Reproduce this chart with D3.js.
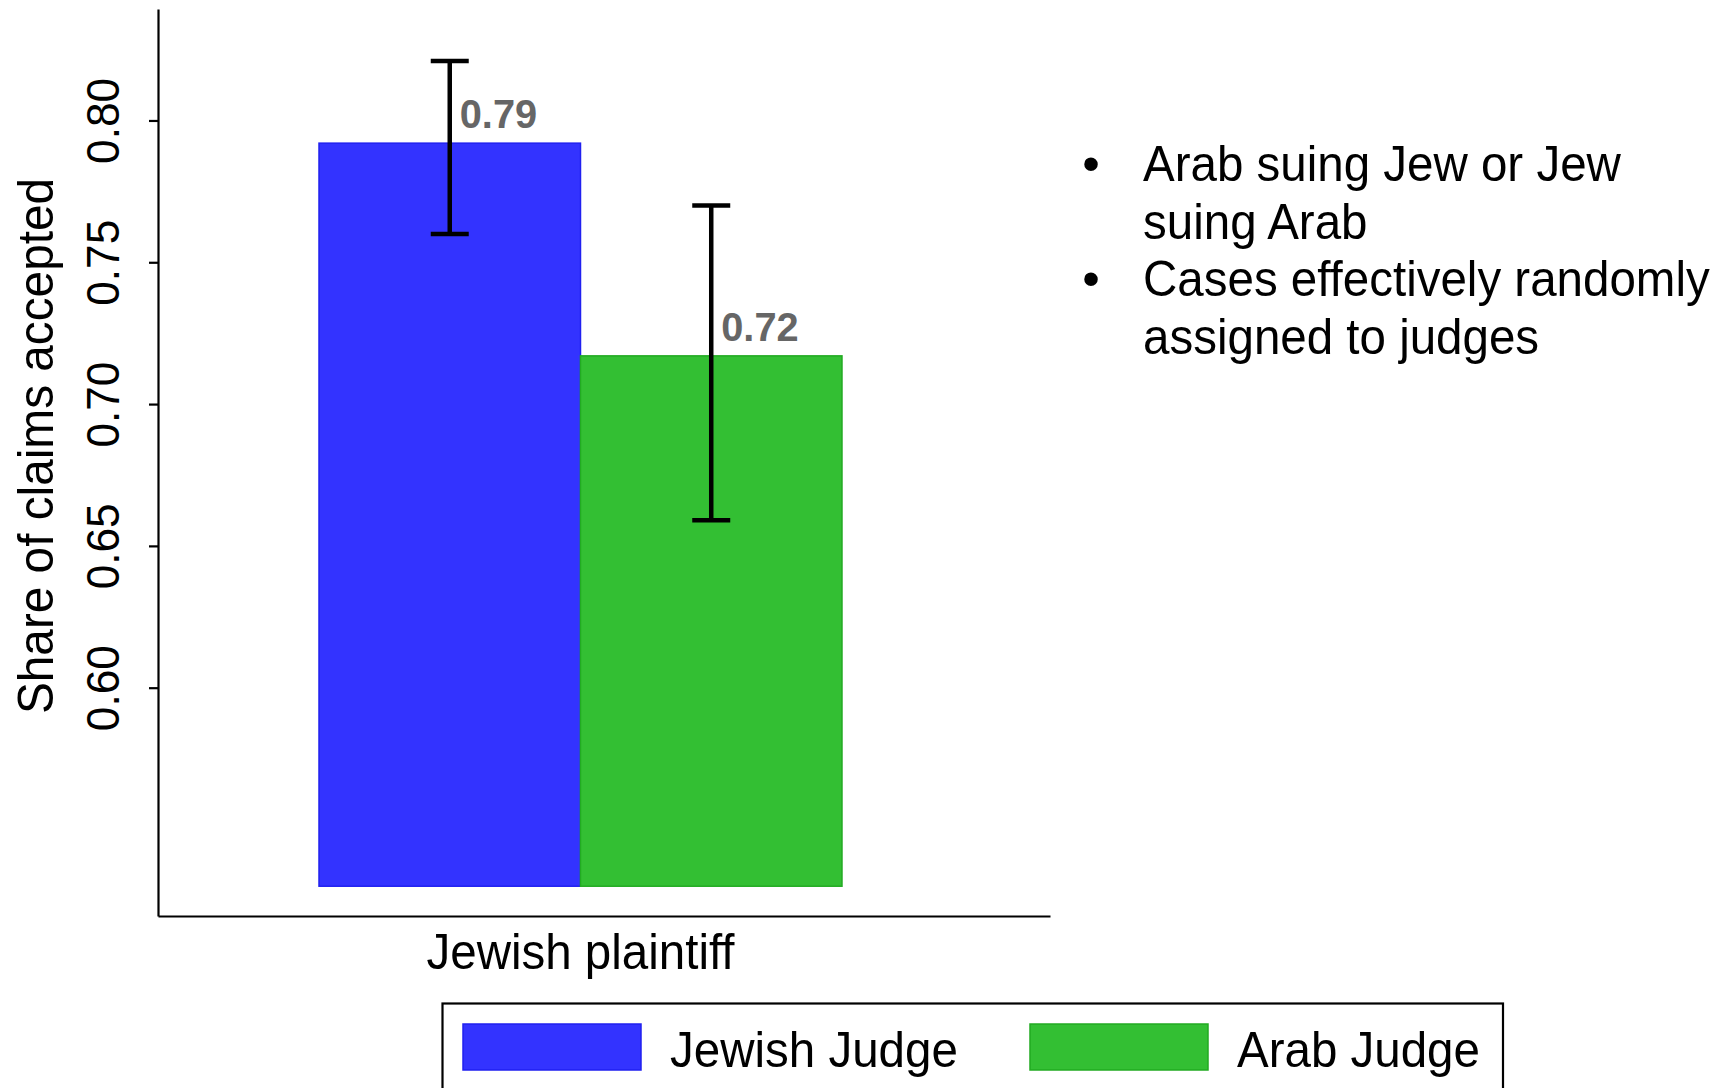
<!DOCTYPE html>
<html>
<head>
<meta charset="utf-8">
<script src="https://cdn.jsdelivr.net/npm/d3@7"></script>
<style>
  body { margin: 0; background: #fff; }
  svg { display: block; }
  text { font-family: "Liberation Sans", Arial, Helvetica, sans-serif; }
</style>
</head>
<body>
<svg id="chart" width="1733" height="1088"></svg>
<script>
// ---- data ----
const categories = ["Jewish plaintiff"];
const series = ["Jewish Judge", "Arab Judge"];
const shareAccepted = [0.792, 0.717];
const ciLow = [0.760, 0.659];
const ciHigh = [0.821, 0.770];
const yTicks = [0.60, 0.65, 0.70, 0.75, 0.80];
const barBase = 0.53;
const yDomain = [0.5195, 0.8393];
const notes = [
  ["Arab suing Jew or Jew", "suing Arab"],
  ["Cases effectively randomly", "assigned to judges"]
];
const yTitle = "Share of claims accepted";

// ---- styling ----
const fills = ["#3333ff", "#33bf33"];
const edges = ["#2020f0", "#22ab22"];
const squeeze = 0.95;   // slightly condensed lettering

const svg = d3.select("#chart");
const plot = { left: 158, right: 1050, top: 9, bottom: 916 };

const y = d3.scaleLinear().domain(yDomain).range([plot.bottom, plot.top]);

const x0 = d3.scaleBand()
  .domain(categories)
  .range([plot.left, plot.right])
  .paddingInner(0)
  .paddingOuter(0.3528)
  .align(0.4363);

const x1 = d3.scaleBand()
  .domain(series)
  .range([0, x0.bandwidth()])
  .padding(0);

function condense(sel, k) {
  sel.each(function () {
    const w = this.getComputedTextLength();
    d3.select(this).attr("textLength", w * k).attr("lengthAdjust", "spacingAndGlyphs");
  });
}

// ---- bars ----
const rows = series.map((s, i) => ({
  series: s, value: shareAccepted[i], lo: ciLow[i], hi: ciHigh[i], fill: fills[i], edge: edges[i]
}));

const groups = svg.selectAll("g.cat")
  .data(categories)
  .join("g")
  .attr("class", "cat")
  .attr("transform", d => `translate(${x0(d)},0)`);

groups.selectAll("rect")
  .data(rows)
  .join("rect")
  .attr("x", d => x1(d.series))
  .attr("y", d => y(d.value))
  .attr("width", x1.bandwidth())
  .attr("height", d => y(barBase) - y(d.value))
  .attr("fill", d => d.fill)
  .attr("stroke", d => d.edge)
  .attr("stroke-width", 1.5);

// ---- error bars ----
const capHalf = 19;
const eb = groups.selectAll("g.err")
  .data(rows)
  .join("g")
  .attr("class", "err")
  .attr("stroke", "#000")
  .attr("stroke-width", 4.5)
  .attr("fill", "none");

eb.append("line")
  .attr("x1", d => x1(d.series) + x1.bandwidth() / 2)
  .attr("x2", d => x1(d.series) + x1.bandwidth() / 2)
  .attr("y1", d => y(d.lo))
  .attr("y2", d => y(d.hi));
eb.append("line")
  .attr("x1", d => x1(d.series) + x1.bandwidth() / 2 - capHalf)
  .attr("x2", d => x1(d.series) + x1.bandwidth() / 2 + capHalf)
  .attr("y1", d => y(d.hi))
  .attr("y2", d => y(d.hi));
eb.append("line")
  .attr("x1", d => x1(d.series) + x1.bandwidth() / 2 - capHalf)
  .attr("x2", d => x1(d.series) + x1.bandwidth() / 2 + capHalf)
  .attr("y1", d => y(d.lo))
  .attr("y2", d => y(d.lo));

// ---- value labels ----
groups.selectAll("text.val")
  .data(rows)
  .join("text")
  .attr("class", "val")
  .attr("x", d => x1(d.series) + x1.bandwidth() / 2 + 10)
  .attr("y", d => y(d.value) - 15)
  .attr("font-size", 41)
  .attr("font-weight", "bold")
  .attr("fill", "#666")
  .text(d => d3.format(".2f")(d.value))
  .call(condense, 0.97);

// ---- y axis ----
const yAxis = svg.append("g")
  .attr("transform", `translate(${plot.left},0)`)
  .call(d3.axisLeft(y).tickValues(yTicks).tickSize(9).tickSizeOuter(0).tickFormat(d3.format(".2f")));
yAxis.select(".domain").attr("stroke-width", 2.2);
yAxis.selectAll(".tick line").attr("stroke-width", 2.2);
yAxis.selectAll(".tick text")
  .attr("transform", "rotate(-90)")
  .attr("x", 0)
  .attr("y", -39)
  .attr("dy", 0)
  .attr("text-anchor", "middle")
  .attr("font-size", 47)
  .attr("font-family", "'Liberation Sans', Arial, sans-serif")
  .attr("fill", "#000")
  .call(condense, 0.94);

svg.append("text")
  .attr("transform", `translate(53,446) rotate(-90)`)
  .attr("text-anchor", "middle")
  .attr("font-size", 50)
  .text(yTitle)
  .call(condense, 0.955);

// ---- x axis ----
const xAxis = svg.append("g")
  .attr("transform", `translate(0,${plot.bottom})`)
  .call(d3.axisBottom(x0).tickSize(0).tickSizeOuter(0));
xAxis.select(".domain").attr("stroke-width", 2.2);
xAxis.selectAll(".tick text")
  .attr("y", 53)
  .attr("dy", 0)
  .attr("font-size", 50)
  .attr("font-family", "'Liberation Sans', Arial, sans-serif")
  .attr("fill", "#000")
  .call(condense, squeeze);

// ---- notes ----
const noteG = svg.append("g").attr("font-size", 50);
let lineIdx = 0;
notes.forEach(block => {
  noteG.append("text")
    .attr("x", 1091)
    .attr("y", 181 + lineIdx * 57.5)
    .attr("text-anchor", "middle")
    .text("\u2022");
  block.forEach(line => {
    noteG.append("text")
      .attr("x", 1143)
      .attr("y", 181 + lineIdx * 57.5)
      .text(line)
      .call(condense, squeeze);
    lineIdx++;
  });
});

// ---- legend ----
const legend = svg.append("g");
legend.append("rect")
  .attr("x", 442.5).attr("y", 1003.5)
  .attr("width", 1060.5).attr("height", 140)
  .attr("fill", "#fff").attr("stroke", "#000").attr("stroke-width", 2.2);

const legItems = legend.selectAll("g.item")
  .data(rows)
  .join("g")
  .attr("class", "item")
  .attr("transform", (d, i) => `translate(${463 + i * 567},0)`);
legItems.append("rect")
  .attr("x", 0).attr("y", 1024)
  .attr("width", 178).attr("height", 46)
  .attr("fill", d => d.fill)
  .attr("stroke", d => d.edge)
  .attr("stroke-width", 1.5);
legItems.append("text")
  .attr("x", 207).attr("y", 1067)
  .attr("font-size", 50)
  .text(d => d.series)
  .call(condense, squeeze);
</script>
</body>
</html>
